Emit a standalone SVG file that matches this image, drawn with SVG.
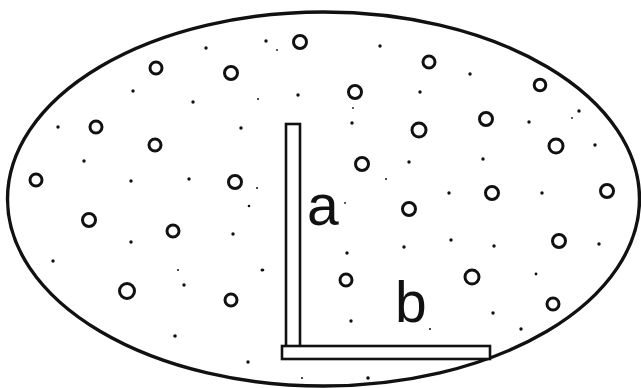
<svg xmlns="http://www.w3.org/2000/svg" width="641" height="388" viewBox="0 0 641 388">
<style>
.o{fill:none;stroke:#111;stroke-width:3}
.d{fill:#111}
.r{fill:#fff;stroke:#111;stroke-width:2.6}
.t{font-family:"Liberation Sans",Arial,sans-serif;font-size:57px;fill:#111}
</style>
<rect width="641" height="388" fill="#fff"/>
<g id="boundary">
<ellipse cx="323.5" cy="199" rx="316" ry="187" fill="none" stroke="#111" stroke-width="3.4"/>
</g>
<g id="particles">
<circle class="o" cx="300" cy="42" r="6.5"/>
<circle class="o" cx="156" cy="68" r="6"/>
<circle class="o" cx="231" cy="73" r="6.5"/>
<circle class="o" cx="429" cy="62" r="6"/>
<circle class="o" cx="540" cy="85" r="5.8"/>
<circle class="o" cx="355" cy="92" r="6.5"/>
<circle class="o" cx="96" cy="127" r="6"/>
<circle class="o" cx="155" cy="145" r="6"/>
<circle class="o" cx="419" cy="130" r="7"/>
<circle class="o" cx="486" cy="119" r="6.5"/>
<circle class="o" cx="556" cy="146" r="7"/>
<circle class="o" cx="36" cy="180" r="6"/>
<circle class="o" cx="362" cy="164" r="6.5"/>
<circle class="o" cx="235" cy="182" r="6.5"/>
<circle class="o" cx="607" cy="191" r="6.5"/>
<circle class="o" cx="89" cy="220" r="6.5"/>
<circle class="o" cx="173" cy="231" r="6"/>
<circle class="o" cx="409" cy="209" r="6.5"/>
<circle class="o" cx="492" cy="193" r="6.5"/>
<circle class="o" cx="559" cy="241" r="6.5"/>
<circle class="o" cx="127" cy="291" r="7.5"/>
<circle class="o" cx="231" cy="300" r="6"/>
<circle class="o" cx="346" cy="280" r="6"/>
<circle class="o" cx="472" cy="277" r="7"/>
<circle class="o" cx="553" cy="304" r="6"/>
</g>
<g id="dots">
<circle class="d" cx="266" cy="41" r="1.7"/>
<circle class="d" cx="277" cy="50" r="0.9"/>
<circle class="d" cx="206" cy="48" r="1.7"/>
<circle class="d" cx="133" cy="91" r="1.7"/>
<circle class="d" cx="193" cy="102" r="1.7"/>
<circle class="d" cx="258" cy="99" r="1"/>
<circle class="d" cx="298" cy="95" r="1.7"/>
<circle class="d" cx="58" cy="127" r="1.7"/>
<circle class="d" cx="241" cy="128" r="1.7"/>
<circle class="d" cx="84" cy="161" r="1.7"/>
<circle class="d" cx="131" cy="181" r="1.7"/>
<circle class="d" cx="189" cy="179" r="1.7"/>
<circle class="d" cx="257" cy="188" r="1"/>
<circle class="d" cx="380" cy="46" r="1.7"/>
<circle class="d" cx="470" cy="74" r="1.7"/>
<circle class="d" cx="420" cy="92" r="1.7"/>
<circle class="d" cx="353" cy="108" r="0.9"/>
<circle class="d" cx="352" cy="123" r="1.7"/>
<circle class="d" cx="529" cy="122" r="1.7"/>
<circle class="d" cx="579" cy="111" r="1.7"/>
<circle class="d" cx="572" cy="118" r="0.9"/>
<circle class="d" cx="595" cy="145" r="1.7"/>
<circle class="d" cx="409" cy="162" r="1.7"/>
<circle class="d" cx="483" cy="159" r="1.7"/>
<circle class="d" cx="386" cy="179" r="1"/>
<circle class="d" cx="449" cy="193" r="1.7"/>
<circle class="d" cx="542" cy="193" r="1.7"/>
<circle class="d" cx="345" cy="203" r="0.9"/>
<circle class="d" cx="451" cy="240" r="1.7"/>
<circle class="d" cx="404" cy="247" r="1.7"/>
<circle class="d" cx="494" cy="246" r="1.7"/>
<circle class="d" cx="599" cy="244" r="1.7"/>
<circle class="d" cx="347" cy="253" r="1.7"/>
<circle class="d" cx="263" cy="270" r="1.3"/>
<circle class="d" cx="536" cy="274" r="1.4"/>
<circle class="d" cx="351" cy="321" r="1.7"/>
<circle class="d" cx="430" cy="329" r="1"/>
<circle class="d" cx="493" cy="313" r="1.7"/>
<circle class="d" cx="521" cy="329" r="1.7"/>
<circle class="d" cx="368" cy="378" r="1.8"/>
<circle class="d" cx="302" cy="378" r="1"/>
<circle class="d" cx="249" cy="206" r="1.3"/>
<circle class="d" cx="233" cy="234" r="1.7"/>
<circle class="d" cx="131" cy="242" r="1.7"/>
<circle class="d" cx="53" cy="261" r="1.7"/>
<circle class="d" cx="178" cy="270" r="1"/>
<circle class="d" cx="184" cy="285" r="1.7"/>
<circle class="d" cx="262" cy="270" r="1.5"/>
<circle class="d" cx="175" cy="336" r="1.8"/>
<circle class="d" cx="248" cy="362" r="1.7"/>
</g>
<g id="ruler">
<rect class="r" x="286" y="124" width="14" height="224"/>
<rect class="r" x="282" y="346" width="208" height="13"/>
</g>
<g id="labels">
<text class="t" x="307" y="225">a</text>
<text class="t" x="395" y="322">b</text>
</g>
</svg>
